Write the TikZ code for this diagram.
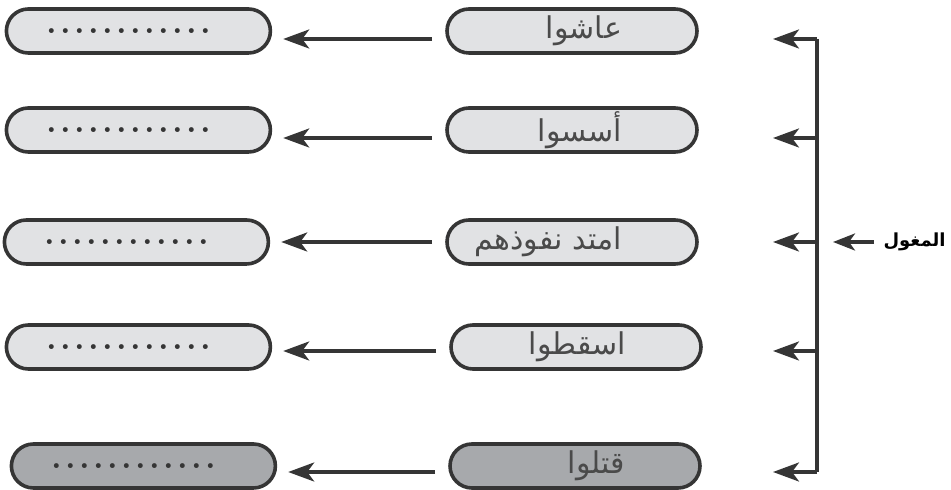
\documentclass[tikz,border=0pt]{standalone}
\usepackage{fontspec}
\newfontfamily\arabicfont[Script=Arabic]{DejaVu Sans}
\TeXXeTstate=1
\usetikzlibrary{arrows.meta,positioning}
\definecolor{PillEdge}{HTML}{353535}
\definecolor{PillLight}{HTML}{E1E2E4}
\definecolor{PillDark}{HTML}{A7A9AC}
\definecolor{ArText}{HTML}{4A4A4A}
\newcommand{\artext}[1]{{\arabicfont\beginR #1\endR}}
\newcommand{\blankdots}{\makebox[84pt]{\xleaders\hbox to 7pt{\hss.\hss}\hfill}\hspace*{10pt}}
\tikzset{
  answerpill/.style={draw=PillEdge,fill=PillLight,line width=1.8pt,rounded corners=11pt,minimum width=132pt,minimum height=22pt,inner sep=0pt,text=PillEdge,font=\bfseries\fontsize{17}{16}\selectfont},
  eventpill/.style={draw=PillEdge,fill=PillLight,line width=1.8pt,rounded corners=11pt,minimum width=125pt,text width=115pt,minimum height=22pt,inner xsep=5pt,inner ysep=0pt,align=right,text=ArText,font=\fontsize{15}{16}\selectfont},
  darkpill/.style={fill=PillDark},
  arrow/.style={-{Stealth[length=13pt,width=9.5pt,inset=3.5pt]},line width=1.7pt,draw=PillEdge},
  bracketline/.style={line width=1.7pt,draw=PillEdge}
}
\begin{document}
\begin{tikzpicture}[x=0.5pt,y=-0.5pt]
\useasboundingbox (0,0) rectangle (951,490);
% events of the Mongols
\node[eventpill] (m1) at (572,31) {\artext{عاشوا}\hspace*{32.5pt}};
\node[eventpill] (m2) at (572,130) {\artext{أسسوا}\hspace*{32.5pt}};
\node[eventpill] (m3) at (572,242) {\artext{امتد نفوذهم}\hspace*{32.5pt}};
\node[eventpill] (m4) at (576,347) {\artext{اسقطوا}\hspace*{32.5pt}};
\node[eventpill,darkpill] (m5) at (575,466) {\artext{قتلوا}\hspace*{32.5pt}};
% blanks to fill
\node[answerpill,left=86.5pt of m1] (d1) {\blankdots};
\node[answerpill,left=86.5pt of m2] (d2) {\blankdots};
\node[answerpill,left=87.5pt of m3] (d3) {\blankdots};
\node[answerpill,left=88.5pt of m4] (d4) {\blankdots};
\node[answerpill,darkpill,left=85.5pt of m5] (d5) {\blankdots};
\draw[arrow,shorten <=6.5pt,shorten >=5.5pt] ([yshift=-4pt]m1.west) -- ([yshift=-4pt]d1.east);
\draw[arrow,shorten <=6.5pt,shorten >=5.5pt] ([yshift=-4pt]m2.west) -- ([yshift=-4pt]d2.east);
\draw[arrow,shorten <=6.5pt,shorten >=5.5pt] (m3) -- (d3);
\draw[arrow,shorten <=6.5pt,shorten >=5.5pt] ([yshift=-2pt]m4.west) -- ([yshift=-2pt]d4.east);
\draw[arrow,shorten <=6.5pt,shorten >=5.5pt] ([yshift=-3pt]m5.west) -- ([yshift=-3pt]d5.east);
% bracket
\coordinate (b1) at (817,39); \coordinate (t1) at (773,39);
\coordinate (b2) at (817,138); \coordinate (t2) at (773,138);
\coordinate (b3) at (817,242); \coordinate (t3) at (773,242);
\coordinate (b4) at (817,351); \coordinate (t4) at (773,351);
\coordinate (b5) at (817,472); \coordinate (t5) at (773,472);
\draw[bracketline] (b1) -- (b5);
\draw[arrow] (b1) -- (t1); \draw[arrow] (b2) -- (t2); \draw[arrow] (b3) -- (t3);
\draw[arrow] (b4) -- (t4); \draw[arrow] (b5) -- (t5);
\node[anchor=east,inner sep=0pt,font=\bfseries\fontsize{9}{11}\selectfont] (mgl) at (946,242) {\artext{المغول}};
\draw[arrow,-{Stealth[length=11pt,width=8.5pt,inset=3pt]},shorten <=4.5pt,shorten >=8pt] (mgl) -- (b3);
\end{tikzpicture}
\end{document}
